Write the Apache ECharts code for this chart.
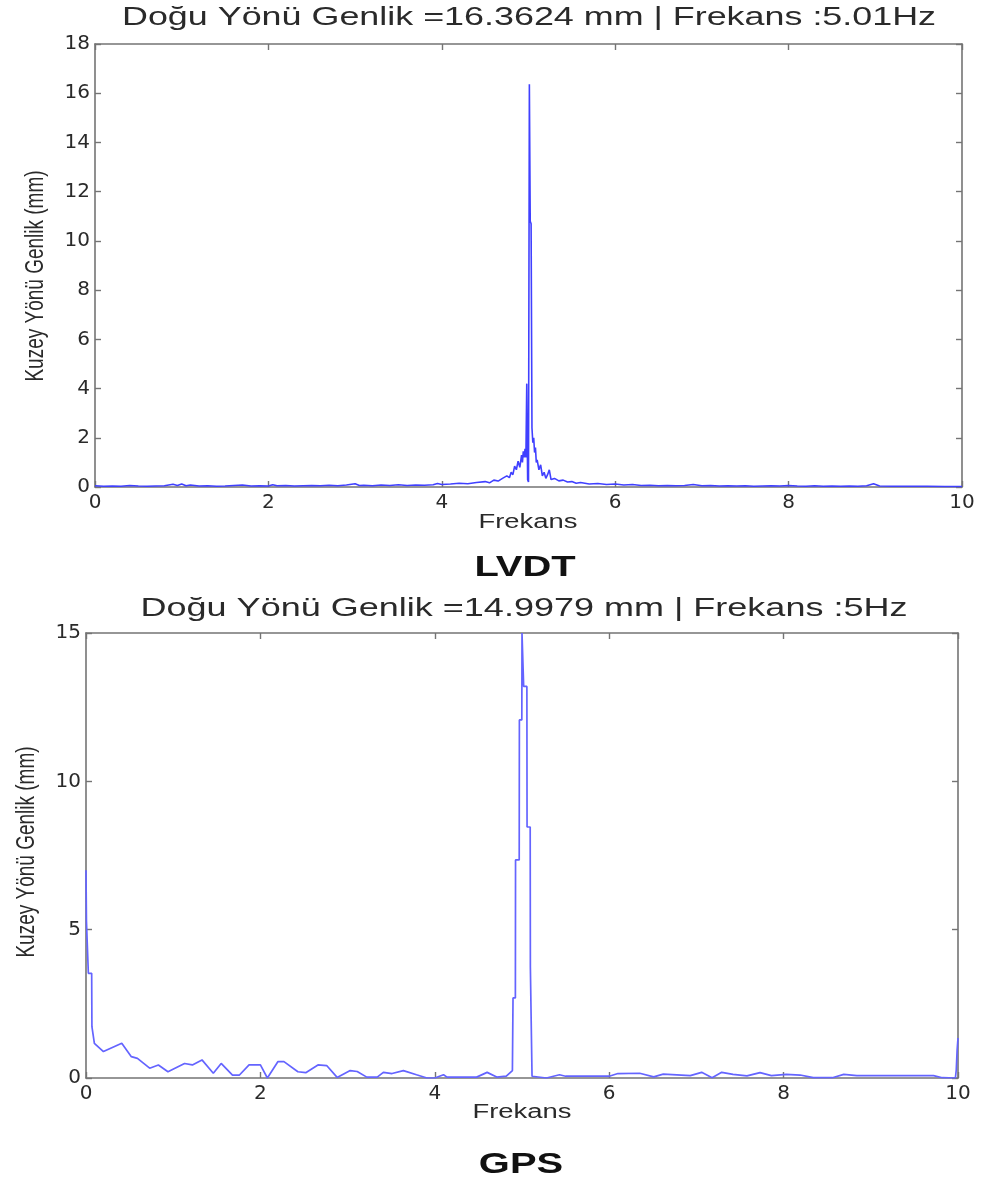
<!DOCTYPE html>
<html>
<head>
<meta charset="utf-8">
<title>LVDT / GPS</title>
<script src="https://cdn.jsdelivr.net/npm/echarts@6/dist/echarts.min.js"></script>
<style>
  html, body { margin: 0; padding: 0; background: #ffffff; }
  #chart { width: 984px; height: 1182px; }
</style>
</head>
<body>
<div id="chart"></div>
<script>
// LVDT amplitude spectrum (Hz, mm)
const lvdtFreq = [
  0.0, 0.1, 0.2, 0.3, 0.4, 0.5, 0.6, 0.7, 0.8, 0.9, 0.95, 1.0, 1.05, 1.1, 1.2, 1.3, 1.4, 1.5, 1.6, 1.7,
  1.8, 1.9, 2.0, 2.05, 2.1, 2.2, 2.3, 2.4, 2.5, 2.6, 2.7, 2.8, 2.9, 3.0, 3.05, 3.1, 3.2, 3.3, 3.4, 3.5,
  3.6, 3.7, 3.8, 3.9, 3.95, 4.0, 4.1, 4.2, 4.3, 4.4, 4.5, 4.55, 4.6, 4.65, 4.7, 4.75, 4.78, 4.8, 4.82, 4.84,
  4.86, 4.88, 4.9, 4.92, 4.93, 4.94, 4.95, 4.96, 4.97, 4.98, 4.99, 5.0, 5.01, 5.02, 5.03, 5.04, 5.05, 5.06, 5.07, 5.08,
  5.09, 5.1, 5.12, 5.14, 5.16, 5.18, 5.2, 5.22, 5.24, 5.26, 5.3, 5.35, 5.4, 5.45, 5.5, 5.55, 5.6, 5.7, 5.8, 5.9,
  6.0, 6.1, 6.2, 6.3, 6.4, 6.5, 6.6, 6.7, 6.8, 6.9, 7.0, 7.1, 7.2, 7.3, 7.4, 7.5, 7.6, 7.7, 7.8, 7.9,
  8.0, 8.1, 8.2, 8.3, 8.4, 8.5, 8.6, 8.7, 8.8, 8.9, 8.98, 9.05, 9.2, 9.4, 9.6, 9.8, 10.0
];
const lvdtAmp = [
  0.05, 0.03, 0.04, 0.03, 0.06, 0.04, 0.03, 0.04, 0.05, 0.11, 0.06, 0.12, 0.05, 0.08, 0.04, 0.05, 0.03, 0.04, 0.06, 0.08,
  0.04, 0.05, 0.04, 0.09, 0.05, 0.06, 0.04, 0.05, 0.06, 0.05, 0.07, 0.05, 0.08, 0.13, 0.06, 0.07, 0.05, 0.08, 0.06, 0.09,
  0.06, 0.08, 0.07, 0.09, 0.14, 0.10, 0.12, 0.15, 0.13, 0.18, 0.22, 0.17, 0.28, 0.24, 0.35, 0.45, 0.38, 0.60, 0.50, 0.85,
  0.70, 1.05, 0.80, 1.30, 1.00, 1.45, 1.20, 1.55, 1.20, 4.20, 0.30, 0.20, 16.3624, 10.80, 10.70, 2.40, 1.80, 2.00, 1.40, 1.60,
  1.00, 1.10, 0.70, 0.90, 0.45, 0.60, 0.35, 0.50, 0.70, 0.30, 0.35, 0.25, 0.28, 0.20, 0.22, 0.15, 0.18, 0.12, 0.14, 0.10,
  0.12, 0.08, 0.10, 0.06, 0.07, 0.05, 0.06, 0.05, 0.06, 0.10, 0.05, 0.06, 0.04, 0.05, 0.04, 0.05, 0.03, 0.04, 0.05, 0.04,
  0.06, 0.04, 0.03, 0.05, 0.03, 0.04, 0.03, 0.04, 0.03, 0.05, 0.13, 0.04, 0.03, 0.03, 0.03, 0.02, 0.02
];

// GPS amplitude spectrum (Hz, mm)
const gpsFreq = [
  0.0, 0.005, 0.027, 0.065, 0.068, 0.096, 0.2, 0.41, 0.52, 0.59, 0.73, 0.83, 0.94, 1.13, 1.22, 1.33, 1.46, 1.55, 1.68, 1.76,
  1.87, 2.0, 2.08, 2.2, 2.27, 2.43, 2.52, 2.66, 2.76, 2.88, 3.03, 3.11, 3.22, 3.34, 3.41, 3.51, 3.64, 3.79, 3.91, 4.0,
  4.1, 4.14, 4.48, 4.6, 4.71, 4.82, 4.89,
  4.897, 4.924, 4.926, 4.968, 4.970, 4.998, 5.0, 5.017, 5.019, 5.056, 5.058, 5.094, 5.096, 5.113, 5.115,
  5.28, 5.43, 5.5, 6.0, 6.1, 6.35, 6.51, 6.62, 6.93, 7.06, 7.18, 7.29, 7.42, 7.58, 7.73, 7.86, 8.03, 8.19, 8.34, 8.56,
  8.69, 8.84, 9.03, 9.72, 9.82, 9.97, 9.98, 9.99, 10.0
];
const gpsAmp = [
  7.0, 5.3, 3.53, 3.53, 1.73, 1.17, 0.89, 1.17, 0.72, 0.66, 0.33, 0.44, 0.21, 0.49, 0.44, 0.61, 0.16, 0.49, 0.10, 0.10,
  0.44, 0.44, 0.0, 0.55, 0.55, 0.21, 0.18, 0.44, 0.42, 0.02, 0.25, 0.22, 0.03, 0.03, 0.19, 0.15, 0.25, 0.11, 0.0, 0.0,
  0.11, 0.03, 0.03, 0.19, 0.03, 0.06, 0.25,
  2.7, 2.7, 7.35, 7.35, 12.07, 12.07, 14.9979, 14.9979, 13.2, 13.2, 8.46, 8.46, 3.74, 3.74, 0.06,
  0.0, 0.11, 0.06, 0.06, 0.15, 0.16, 0.04, 0.13, 0.08, 0.19, 0.01, 0.19, 0.12, 0.07, 0.18, 0.08, 0.12, 0.10, 0.01, 0.01,
  0.12, 0.08, 0.08, 0.08, 0.01, 0.0, 0.27, 0.94, 1.35
];

// Axis tick values
const freqTicks = [0, 2, 4, 6, 8, 10];
const lvdtTicks = [0, 2, 4, 6, 8, 10, 12, 14, 16, 18];
const gpsTicks = [0, 5, 10, 15];

// Texts
const lvdtTitle = 'Doğu Yönü Genlik =16.3624 mm | Frekans :5.01Hz';
const gpsTitle = 'Doğu Yönü Genlik =14.9979 mm | Frekans :5Hz';
const xName = 'Frekans';
const yName = 'Kuzey Yönü Genlik (mm)';
const lvdtCaption = 'LVDT';
const gpsCaption = 'GPS';

const pairs = (xs, ys) => xs.map((x, i) => [x, ys[i]]);

const AXIS_COLOR = '#747474';
const TEXT_COLOR = '#2a2a2a';
const LINE_COLOR = '#4040ff';
const STRETCH = 1.37;

const tickFont = {
  color: TEXT_COLOR,
  fontFamily: 'DejaVu Sans',
  fontSize: 20
};

function bottomX(grid, ticks) {
  return {
    gridIndex: grid, type: 'value', position: 'bottom',
    min: ticks[0], max: ticks[ticks.length - 1], interval: ticks[1] - ticks[0],
    axisLine: { show: true, onZero: false, lineStyle: { color: AXIS_COLOR, width: 1.6 } },
    axisTick: { show: true, inside: true, length: 6, lineStyle: { color: AXIS_COLOR, width: 1.4 } },
    axisLabel: Object.assign({ margin: 6 }, tickFont),
    splitLine: { show: false }
  };
}
function topX(grid, ticks) {
  return {
    gridIndex: grid, type: 'value', position: 'top',
    min: ticks[0], max: ticks[ticks.length - 1], interval: ticks[1] - ticks[0],
    axisLine: { show: true, onZero: false, lineStyle: { color: AXIS_COLOR, width: 1.6 } },
    axisTick: { show: true, inside: true, length: 6, lineStyle: { color: AXIS_COLOR, width: 1.4 } },
    axisLabel: { show: false },
    splitLine: { show: false }
  };
}
function leftY(grid, ticks) {
  return {
    gridIndex: grid, type: 'value', position: 'left',
    min: ticks[0], max: ticks[ticks.length - 1], interval: ticks[1] - ticks[0],
    axisLine: { show: true, onZero: false, lineStyle: { color: AXIS_COLOR, width: 1.6 } },
    axisTick: { show: true, inside: true, length: 6, lineStyle: { color: AXIS_COLOR, width: 1.4 } },
    axisLabel: Object.assign({ margin: 5 }, tickFont),
    splitLine: { show: false }
  };
}
function rightY(grid, ticks) {
  return {
    gridIndex: grid, type: 'value', position: 'right',
    min: ticks[0], max: ticks[ticks.length - 1], interval: ticks[1] - ticks[0],
    axisLine: { show: true, onZero: false, lineStyle: { color: AXIS_COLOR, width: 1.6 } },
    axisTick: { show: true, inside: true, length: 6, lineStyle: { color: AXIS_COLOR, width: 1.4 } },
    axisLabel: { show: false },
    splitLine: { show: false }
  };
}

// Stretched label text (wide lettering of the plot window)
function label(text, x, y, size, opts) {
  opts = opts || {};
  const el = {
    type: 'text', x: x, y: y, silent: true,
    style: {
      text: text,
      fill: opts.color || TEXT_COLOR,
      fontFamily: opts.family || 'Liberation Sans',
      fontSize: size,
      fontWeight: opts.bold ? 'bold' : 'normal',
      align: 'center',
      verticalAlign: 'middle'
    }
  };
  if (opts.vertical) {
    el.rotation = Math.PI / 2;
    el.scaleY = opts.stretch || STRETCH;
  } else {
    el.scaleX = opts.stretch || STRETCH;
  }
  return el;
}

const chart = echarts.init(document.getElementById('chart'), null, { renderer: 'canvas' });

chart.setOption({
  animation: false,
  backgroundColor: '#ffffff',
  grid: [
    { left: 95, top: 44, width: 867, height: 443 },
    { left: 86, top: 633, width: 872, height: 445 }
  ],
  xAxis: [
    bottomX(0, freqTicks), topX(0, freqTicks),
    bottomX(1, freqTicks), topX(1, freqTicks)
  ],
  yAxis: [
    leftY(0, lvdtTicks), rightY(0, lvdtTicks),
    leftY(1, gpsTicks), rightY(1, gpsTicks)
  ],
  series: [
    {
      name: 'LVDT', type: 'line', xAxisIndex: 0, yAxisIndex: 0,
      data: pairs(lvdtFreq, lvdtAmp),
      showSymbol: false, symbol: 'none',
      lineStyle: { color: LINE_COLOR, width: 1.6 }
    },
    {
      name: 'GPS', type: 'line', xAxisIndex: 2, yAxisIndex: 2,
      data: pairs(gpsFreq, gpsAmp),
      showSymbol: false, symbol: 'none',
      lineStyle: { color: '#6464ff', width: 1.7 }
    }
  ],
  graphic: [
    label(lvdtTitle, 529, 18, 26, { stretch: 1.38 }),
    label(xName, 528, 522, 20),
    label(yName, 36, 276, 19, { vertical: true }),
    label(lvdtCaption, 525, 568, 30, { bold: true, color: '#111111', stretch: 1.33 }),

    label(gpsTitle, 524, 609, 26, { stretch: 1.385 }),
    label(xName, 522, 1112, 20),
    label(yName, 27, 852, 19, { vertical: true }),
    label(gpsCaption, 521, 1165, 30, { bold: true, color: '#111111', stretch: 1.33 })
  ]
});
</script>
</body>
</html>
